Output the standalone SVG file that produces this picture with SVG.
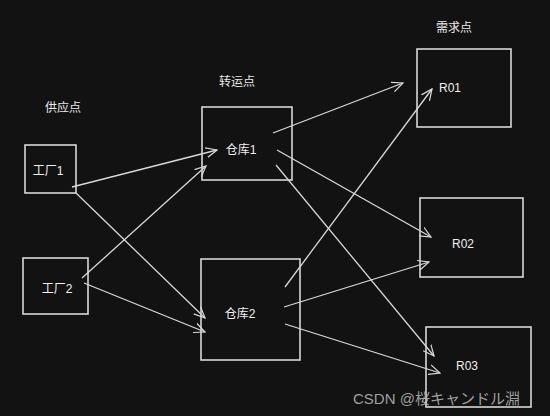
<svg xmlns="http://www.w3.org/2000/svg" width="550" height="416" viewBox="0 0 550 416">
<style>
.box{fill:none;stroke:#d8d8d8;stroke-width:1.6}
.lbl{font-family:"Liberation Sans","Noto Sans CJK SC",sans-serif;font-size:12px;fill:#f0f0f0;text-anchor:middle}
.ttl{font-family:"Noto Sans CJK SC",sans-serif;font-size:12px;fill:#e8e8e8;text-anchor:middle}
.edge{fill:none;stroke:#d8d8d8;stroke-width:1.3;marker-end:url(#arr)}
.wm{font-family:"Liberation Sans","Noto Sans CJK JP",sans-serif;font-size:15px;fill:#bdbdbd;fill-opacity:0.85}
</style>
<defs>
<marker id="arr" viewBox="0 0 12 12" refX="11" refY="6" markerWidth="12" markerHeight="12" markerUnits="userSpaceOnUse" orient="auto">
<path d="M0,1 L11,6 L0,11" fill="none" stroke="#d8d8d8" stroke-width="1.2"/>
</marker>
</defs>
<rect width="550" height="416" fill="#121212"/>
<text class="ttl" x="63" y="112">供应点</text>
<text class="ttl" x="237" y="86">转运点</text>
<text class="ttl" x="454" y="32">需求点</text>
<g id="connectors">
<path class="edge" d="M72,187 L217,150"/>
<path class="edge" d="M76,193 L205,318"/>
<path class="edge" d="M82,278 L206,166"/>
<path class="edge" d="M84,283 L205,332"/>
<path class="edge" d="M273,133 L403,83"/>
<path class="edge" d="M285,287 L432,89"/>
<path class="edge" d="M277,150 L431,237"/>
<path class="edge" d="M284,307 L429,262"/>
<path class="edge" d="M276,165 L434,356"/>
<path class="edge" d="M285,324 L440,373"/>
</g>
<g id="f1"><rect class="box" x="25" y="145" width="51" height="48"/><text class="lbl" x="48" y="175">工厂1</text></g>
<g id="f2"><rect class="box" x="23" y="258" width="65" height="56"/><text class="lbl" x="57" y="293">工厂2</text></g>
<g id="w1"><rect class="box" x="202" y="107" width="90" height="73"/><text class="lbl" x="241" y="154">仓库1</text></g>
<g id="w2"><rect class="box" x="201" y="259" width="99" height="101"/><text class="lbl" x="240" y="318">仓库2</text></g>
<g id="r1"><rect class="box" x="417" y="49" width="94" height="78"/><text class="lbl" x="450" y="92">R01</text></g>
<g id="r2"><rect class="box" x="420" y="198" width="103" height="79"/><text class="lbl" x="463" y="248">R02</text></g>
<g id="r3"><rect class="box" x="426" y="327" width="105" height="80"/><text class="lbl" x="467" y="370">R03</text></g>
<text class="wm" x="353" y="404">CSDN @桜キャンドル淵</text>
</svg>
